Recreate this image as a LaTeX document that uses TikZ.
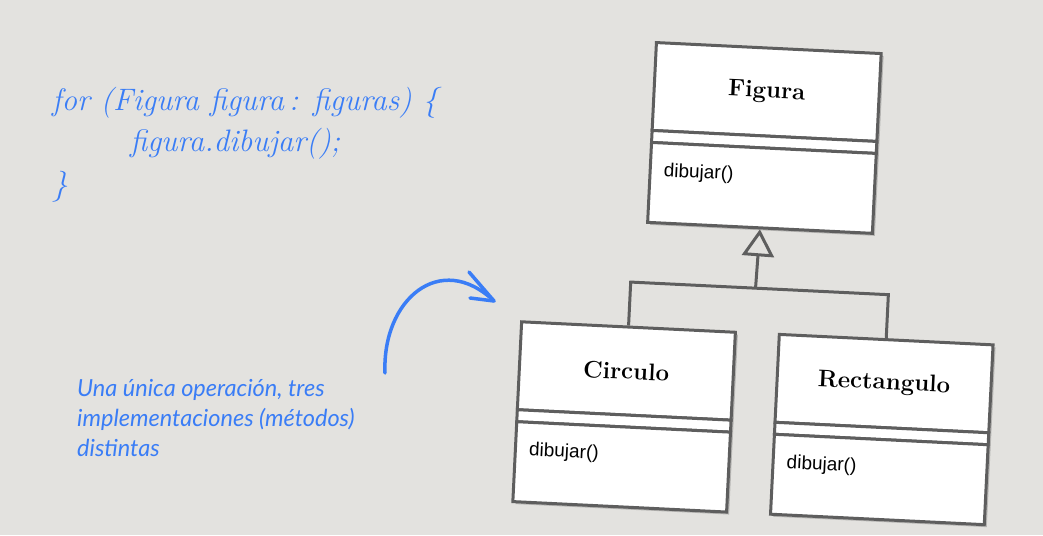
\documentclass[tikz,border=0pt]{standalone}
\usepackage{fontspec}
\newfontfamily\helv{Liberation Sans}
\newfontfamily\notefont{Lato}
\usetikzlibrary{arrows.meta,shadows}
\definecolor{bg}{RGB}{227,226,223}
\definecolor{boxline}{RGB}{94,94,94}
\definecolor{hand}{RGB}{58,125,246}
\begin{document}
\begin{tikzpicture}[x=1pt,y=1pt,
  compart/.style={draw=boxline, line width=3pt, fill=white, inner sep=0pt, anchor=north west,
    drop shadow={shadow xshift=2.5pt, shadow yshift=-2.5pt, opacity=0.2, fill=black}},
  classname/.style={compart, minimum height=88pt, font=\fontsize{24}{28}\selectfont\bfseries},
  classattr/.style={compart, minimum height=12pt},
  classops/.style={compart, minimum height=80pt},
  optext/.style={anchor=west, inner sep=0pt, font=\helv\fontsize{19}{22}\selectfont},
  conn/.style={draw=boxline, line width=3pt},
  handcode/.style={text=hand, anchor=base west, inner sep=0pt, font=\fontsize{31}{35}\selectfont\itshape},
  handnote/.style={text=hand, anchor=base west, inner sep=0pt, font=\notefont\itshape\fontsize{23.5}{27}\selectfont},
  handline/.style={draw=hand, line width=3.5pt, line cap=round, line join=round}
]
\fill[bg] (0,0) rectangle (1043,-535);
\useasboundingbox (0,0) rectangle (1043,-535);

% code text
\node[handcode] (code1) at (52,-110) {for (Figura figura\,: figuras) \{};
\node[handcode] (code2) at (130,-151) {figura.dibujar();};
\node[handcode] (code3) at (52,-194) {\}};

% note text
\node[handnote] (note1) at (77,-396) {Una única operación, tres};
\node[handnote] (note2) at (77,-426) {implementaciones (métodos)};
\node[handnote] (note3) at (77,-456) {distintas};

% blue arrow
\coordinate (arrstart) at (385,-373);
\coordinate (arrtip) at (494,-301);
\coordinate (arma) at (469,-272);
\coordinate (armb) at (470,-298);
\draw[handline] (arrstart) .. controls (382,-300) and (440,-250) .. (arrtip);
\draw[handline] (arma) -- (arrtip) -- (armb);

% UML classes
\begin{scope}[shift={(655,-41)}, rotate=-2.8, transform shape]
  \node[classname, minimum width=225pt] (figura) at (0,0) {Figura};
  \node[classattr, minimum width=225pt] (figuraattr) at (0,-88) {};
  \node[classops, minimum width=225pt] (figuraops) at (0,-100) {};
  \node[optext] (figuradib) at (15,-130) {dibujar()};

  \node[classname, minimum width=214pt] (circulo) at (-121,-285.5) {Circulo};
  \node[classattr, minimum width=214pt] (circuloattr) at (-121,-373.5) {};
  \node[classops, minimum width=214pt] (circuloops) at (-121,-385.5) {};
  \node[optext] (circulodib) at (-106,-415.5) {dibujar()};

  \node[classname, minimum width=214pt] (rectangulo) at (137,-285.5) {Rectangulo};
  \node[classattr, minimum width=214pt] (rectanguloattr) at (137,-373.5) {};
  \node[classops, minimum width=214pt] (rectanguloops) at (137,-385.5) {};
  \node[optext] (rectangulodib) at (152,-415.5) {dibujar()};

  \coordinate (junction) at (112.5,-242);
  \draw[conn] (circulo.north) |- (junction) -| (rectangulo.north);
  \draw[conn, -{Triangle[open, length=27pt, width=32pt]}] (junction) -- (figuraops.south);
\end{scope}
\end{tikzpicture}
\end{document}
